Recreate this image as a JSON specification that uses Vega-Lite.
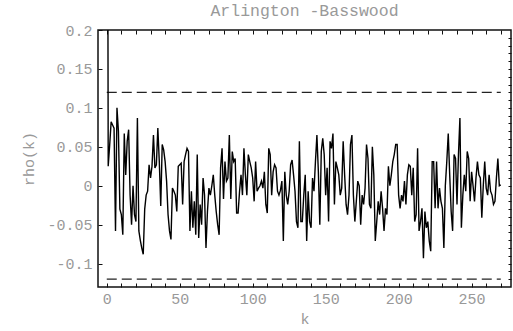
{
  "$schema": "https://vega.github.io/schema/vega-lite/v6.json",
  "width": 413,
  "height": 257,
  "autosize": {"type": "none"},
  "padding": {"left": 98, "top": 30, "right": 2, "bottom": 44},
  "background": "white",
  "title": {"text": "Arlington -Basswood", "font": "Liberation Mono", "fontSize": 16.5, "fontWeight": "normal", "color": "#999999", "offset": 4, "anchor": "middle"},
  "config": {
    "view": {"stroke": "#111111", "strokeWidth": 1.5},
    "axis": {"domain": false, "grid": false, "labelFont": "Liberation Mono", "labelFontSize": 15, "labelColor": "#999999", "titleFont": "Liberation Mono", "titleFontSize": 15, "titleColor": "#999999", "titleFontWeight": "normal", "tickColor": "#111111"}
  },
  "datasets": {
    "acf": [
      {"k":0,"r":1},{"k":1,"r":0.025},{"k":2,"r":0.052},{"k":3,"r":0.082},{"k":4,"r":0.078},{"k":5,"r":0.074},{"k":6,"r":-0.058},{"k":7,"r":0.1},{"k":8,"r":0.07},{"k":9,"r":-0.03},
      {"k":10,"r":-0.037},{"k":11,"r":-0.063},{"k":12,"r":0.067},{"k":13,"r":0.014},{"k":14,"r":0.057},{"k":15,"r":0.072},{"k":16,"r":-0.012},{"k":17,"r":-0.05},{"k":18,"r":0.0},{"k":19,"r":-0.037},
      {"k":20,"r":-0.046},{"k":21,"r":0.087},{"k":22,"r":-0.058},{"k":23,"r":-0.07},{"k":24,"r":-0.08},{"k":25,"r":-0.088},{"k":26,"r":-0.03},{"k":27,"r":-0.012},{"k":28,"r":-0.007},{"k":29,"r":0.027},
      {"k":30,"r":0.01},{"k":31,"r":0.025},{"k":32,"r":0.065},{"k":33,"r":0.023},{"k":34,"r":0.027},{"k":35,"r":0.074},{"k":36,"r":0.031},{"k":37,"r":-0.026},{"k":38,"r":0.053},{"k":39,"r":0.046},
      {"k":40,"r":0.031},{"k":41,"r":0.006},{"k":42,"r":-0.037},{"k":43,"r":-0.058},{"k":44,"r":-0.069},{"k":45,"r":-0.003},{"k":46,"r":-0.007},{"k":47,"r":-0.012},{"k":48,"r":-0.033},{"k":49,"r":0.025},
      {"k":50,"r":0.027},{"k":51,"r":0.029},{"k":52,"r":-0.024},{"k":53,"r":0.031},{"k":54,"r":0.04},{"k":55,"r":0.048},{"k":56,"r":0.044},{"k":57,"r":-0.058},{"k":58,"r":-0.007},{"k":59,"r":-0.054},
      {"k":60,"r":-0.02},{"k":61,"r":-0.063},{"k":62,"r":0.04},{"k":63,"r":-0.067},{"k":64,"r":-0.024},{"k":65,"r":-0.05},{"k":66,"r":0.01},{"k":67,"r":-0.012},{"k":68,"r":-0.08},{"k":69,"r":-0.033},
      {"k":70,"r":-0.003},{"k":71,"r":-0.012},{"k":72,"r":0.0},{"k":73,"r":0.014},{"k":74,"r":-0.012},{"k":75,"r":-0.033},{"k":76,"r":-0.05},{"k":77,"r":-0.063},{"k":78,"r":0.023},{"k":79,"r":0.048},
      {"k":80,"r":-0.017},{"k":81,"r":0.031},{"k":82,"r":0.006},{"k":83,"r":0.01},{"k":84,"r":0.065},{"k":85,"r":-0.017},{"k":86,"r":0.044},{"k":87,"r":0.031},{"k":88,"r":0.035},{"k":89,"r":-0.035},
      {"k":90,"r":-0.035},{"k":91,"r":-0.007},{"k":92,"r":0.014},{"k":93,"r":-0.012},{"k":94,"r":0.048},{"k":95,"r":0.014},{"k":96,"r":-0.012},{"k":97,"r":0.04},{"k":98,"r":0.031},{"k":99,"r":0.023},
      {"k":100,"r":0.01},{"k":101,"r":-0.02},{"k":102,"r":0.031},{"k":103,"r":-0.007},{"k":104,"r":-0.003},{"k":105,"r":0.0},{"k":106,"r":0.006},{"k":107,"r":-0.003},{"k":108,"r":0.018},{"k":109,"r":-0.024},
      {"k":110,"r":-0.035},{"k":111,"r":0.048},{"k":112,"r":0.04},{"k":113,"r":-0.012},{"k":114,"r":0.018},{"k":115,"r":0.027},{"k":116,"r":0.023},{"k":117,"r":-0.007},{"k":118,"r":-0.012},{"k":119,"r":-0.006},
      {"k":120,"r":0.006},{"k":121,"r":-0.071},{"k":122,"r":0.018},{"k":123,"r":-0.012},{"k":124,"r":-0.024},{"k":125,"r":-0.007},{"k":126,"r":0.027},{"k":127,"r":0.033},{"k":128,"r":0.014},{"k":129,"r":-0.007},
      {"k":130,"r":-0.046},{"k":131,"r":-0.054},{"k":132,"r":0.057},{"k":133,"r":-0.046},{"k":134,"r":-0.046},{"k":135,"r":-0.012},{"k":136,"r":0.014},{"k":137,"r":-0.071},{"k":138,"r":-0.007},{"k":139,"r":-0.046},
      {"k":140,"r":-0.054},{"k":141,"r":0.01},{"k":142,"r":-0.007},{"k":143,"r":0.031},{"k":144,"r":0.065},{"k":145,"r":0.018},{"k":146,"r":-0.05},{"k":147,"r":0.044},{"k":148,"r":0.061},{"k":149,"r":0.04},
      {"k":150,"r":-0.012},{"k":151,"r":0.023},{"k":152,"r":-0.046},{"k":153,"r":0.057},{"k":154,"r":0.048},{"k":155,"r":0.067},{"k":156,"r":-0.024},{"k":157,"r":0.031},{"k":158,"r":0.023},{"k":159,"r":0.014},
      {"k":160,"r":-0.012},{"k":161,"r":-0.003},{"k":162,"r":0.057},{"k":163,"r":0.014},{"k":164,"r":-0.024},{"k":165,"r":-0.037},{"k":166,"r":-0.012},{"k":167,"r":0.053},{"k":168,"r":0.065},{"k":169,"r":-0.012},
      {"k":170,"r":-0.046},{"k":171,"r":-0.02},{"k":172,"r":0.006},{"k":173,"r":0.0},{"k":174,"r":-0.05},{"k":175,"r":-0.012},{"k":176,"r":-0.024},{"k":177,"r":-0.003},{"k":178,"r":0.053},{"k":179,"r":0.035},
      {"k":180,"r":-0.024},{"k":181,"r":-0.029},{"k":182,"r":0.05},{"k":183,"r":0.014},{"k":184,"r":-0.071},{"k":185,"r":-0.046},{"k":186,"r":-0.02},{"k":187,"r":-0.037},{"k":188,"r":-0.007},{"k":189,"r":-0.029},
      {"k":190,"r":-0.058},{"k":191,"r":-0.029},{"k":192,"r":-0.037},{"k":193,"r":0.025},{"k":194,"r":0.0},{"k":195,"r":0.014},{"k":196,"r":0.031},{"k":197,"r":0.04},{"k":198,"r":0.053},{"k":199,"r":0.053},
      {"k":200,"r":-0.012},{"k":201,"r":-0.029},{"k":202,"r":-0.012},{"k":203,"r":-0.02},{"k":204,"r":0.006},{"k":205,"r":-0.024},{"k":206,"r":0.014},{"k":207,"r":0.027},{"k":208,"r":0.025},{"k":209,"r":-0.012},
      {"k":210,"r":0.023},{"k":211,"r":-0.046},{"k":212,"r":-0.037},{"k":213,"r":0.048},{"k":214,"r":-0.058},{"k":215,"r":-0.046},{"k":216,"r":-0.029},{"k":217,"r":-0.093},{"k":218,"r":-0.033},{"k":219,"r":-0.054},
      {"k":220,"r":-0.046},{"k":221,"r":-0.071},{"k":222,"r":-0.084},{"k":223,"r":0.031},{"k":224,"r":0.031},{"k":225,"r":-0.029},{"k":226,"r":0.031},{"k":227,"r":-0.029},{"k":228,"r":-0.003},{"k":229,"r":-0.02},
      {"k":230,"r":-0.029},{"k":231,"r":-0.08},{"k":232,"r":0.0},{"k":233,"r":0.031},{"k":234,"r":0.067},{"k":235,"r":0.014},{"k":236,"r":-0.033},{"k":237,"r":-0.058},{"k":238,"r":0.04},{"k":239,"r":0.035},
      {"k":240,"r":-0.024},{"k":241,"r":0.04},{"k":242,"r":0.087},{"k":243,"r":-0.054},{"k":244,"r":-0.012},{"k":245,"r":0.014},{"k":246,"r":-0.007},{"k":247,"r":0.044},{"k":248,"r":0.035},{"k":249,"r":-0.02},
      {"k":250,"r":0.018},{"k":251,"r":0.0},{"k":252,"r":-0.02},{"k":253,"r":0.01},{"k":254,"r":0.031},{"k":255,"r":0.014},{"k":256,"r":0.01},{"k":257,"r":-0.041},{"k":258,"r":0.0},{"k":259,"r":0.031},
      {"k":260,"r":-0.003},{"k":261,"r":-0.012},{"k":262,"r":0.014},{"k":263,"r":-0.007},{"k":264,"r":-0.012},{"k":265,"r":-0.024},{"k":266,"r":-0.02},{"k":267,"r":0.01},{"k":268,"r":0.035},{"k":269,"r":0.0},
      {"k":270,"r":0.001}
    ],
    "bands": [
      {"y": 0.12, "x0": 0, "x1": 270},
      {"y": -0.12, "x0": 0, "x1": 270}
    ]
  },
  "layer": [
    {
      "data": {"name": "bands"},
      "mark": {"type": "rule", "color": "#222222", "strokeWidth": 1.3, "strokeDash": [10, 5]},
      "encoding": {
        "x": {"field": "x0", "type": "quantitative", "scale": {"domain": [-6, 277], "nice": false, "zero": false},
              "axis": {"orient": "top", "title": null, "labels": false, "values": [0,10,20,30,40,50,60,70,80,90,100,110,120,130,140,150,160,170,180,190,200,210,220,230,240,250,260,270], "tickSize": -4}},
        "x2": {"field": "x1"},
        "y": {"field": "y", "type": "quantitative", "scale": {"domain": [-0.13, 0.2], "nice": false, "zero": false},
              "axis": {"orient": "right", "title": null, "labels": false, "values": [-0.12,-0.11,-0.1,-0.09,-0.08,-0.07,-0.06,-0.05,-0.04,-0.03,-0.02,-0.01,0,0.01,0.02,0.03,0.04,0.05,0.06,0.07,0.08,0.09,0.1,0.11,0.12,0.13,0.14,0.15,0.16,0.17,0.18,0.19], "tickSize": -3}}
      }
    },
    {
      "mark": {"type": "rule", "color": "#111111", "strokeWidth": 1.3},
      "encoding": {
        "y": {"datum": 0, "type": "quantitative", "scale": {"domain": [-0.13, 0.2], "nice": false, "zero": false}, "axis": null}
      }
    },
    {
      "data": {"name": "acf"},
      "mark": {"type": "line", "color": "#000000", "strokeWidth": 1.4, "clip": true},
      "encoding": {
        "x": {"field": "k", "type": "quantitative", "scale": {"domain": [-6, 277], "nice": false, "zero": false},
              "axis": {"orient": "bottom", "title": "k", "titleFontSize": 15, "titlePadding": 5, "values": [0,10,20,30,40,50,60,70,80,90,100,110,120,130,140,150,160,170,180,190,200,210,220,230,240,250,260,270], "labelExpr": "datum.value % 50 === 0 ? datum.value + '' : ''", "tickSize": -4, "labelPadding": 8}},
        "y": {"field": "r", "type": "quantitative", "scale": {"domain": [-0.13, 0.2], "nice": false, "zero": false},
              "axis": {"orient": "left", "title": "rho(k)", "titlePadding": 10, "values": [-0.1,-0.05,0,0.05,0.1,0.15,0.2], "labelExpr": "datum.value + ''", "tickSize": -4, "labelPadding": 10}}
      }
    }
  ],
  "resolve": {"axis": {"x": "independent", "y": "independent"}}
}
